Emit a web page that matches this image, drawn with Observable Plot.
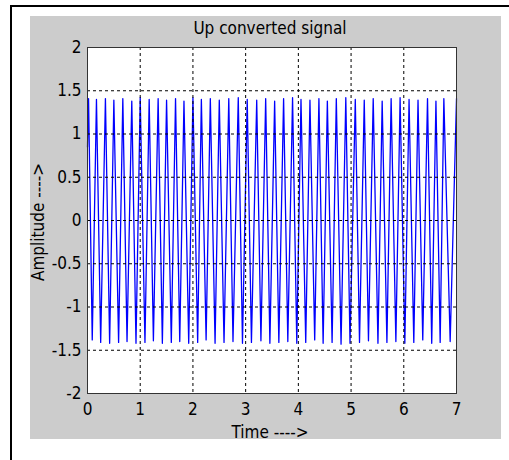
<!DOCTYPE html>
<html>
<head>
<meta charset="utf-8">
<script src="https://cdn.jsdelivr.net/npm/d3@7"></script>
<script src="https://cdn.jsdelivr.net/npm/@observablehq/plot@0.6"></script>
<style>
  html, body { margin: 0; padding: 0; background: #fff; }
  body { width: 509px; height: 460px; position: relative; overflow: hidden;
         font-family: "Liberation Sans Narrow", "Arial Narrow", "DejaVu Sans Condensed", sans-serif; }
  #frame { position: absolute; left: 10px; top: 5px; width: 520px; height: 480px;
           border-left: 2px solid #000; border-top: 2px solid #000; }
  #panel { position: absolute; left: 30px; top: 16px; width: 471px; height: 423px; background: #cccccc; }
  #chart { position: absolute; left: 0; top: 0; }
  .lbl { position: absolute; color: #000; font-size: 17px; white-space: nowrap; line-height: 1; }
  #title { left: 240px; top: 4px; transform: translateX(-50%); }
  #xlabel { left: 240px; top: 408px; transform: translateX(-50%); }
  #ylabel { left: 8px; top: 206px; transform: translate(-50%, -50%) rotate(-90deg); }
</style>
</head>
<body>
<div id="frame"></div>
<div id="panel">
  <div id="chart"></div>
  <div class="lbl" id="title">Up converted signal</div>
  <div class="lbl" id="xlabel">Time ----&gt;</div>
  <div class="lbl" id="ylabel">Amplitude ----&gt;</div>
</div>
<script>
// Tick values
const xTicks = [0, 1, 2, 3, 4, 5, 6, 7];
const yTicks = [-2, -1.5, -1, -0.5, 0, 0.5, 1, 1.5, 2];

// Signal vertices (start, then peak/trough pairs, then end)
const time = [0,
  0.02, 0.09, 0.17, 0.25, 0.34, 0.42, 0.50, 0.59, 0.67, 0.75,
  0.84, 0.92, 1.00, 1.09, 1.17, 1.25, 1.34, 1.42, 1.50, 1.59,
  1.67, 1.75, 1.83, 1.92, 2.00, 2.09, 2.16, 2.25, 2.33, 2.42,
  2.50, 2.59, 2.68, 2.76, 2.86, 2.94, 3.03, 3.11, 3.21, 3.29,
  3.38, 3.46, 3.55, 3.63, 3.72, 3.80, 3.89, 3.97, 4.05, 4.14,
  4.22, 4.31, 4.39, 4.47, 4.55, 4.64, 4.72, 4.81, 4.90, 4.98,
  5.08, 5.16, 5.25, 5.33, 5.42, 5.51, 5.59, 5.68, 5.76, 5.85,
  5.93, 6.02, 6.10, 6.19, 6.27, 6.36, 6.45, 6.53, 6.61, 6.69,
  6.76, 6.88,
  7.00];
const amplitude = [0.85,
  1.41, -1.38, 1.40, -1.41, 1.41, -1.42, 1.39, -1.41, 1.41, -1.40,
  1.38, -1.42, 1.42, -1.41, 1.40, -1.39, 1.41, -1.42, 1.39, -1.41,
  1.41, -1.40, 1.38, -1.42, 1.42, -1.41, 1.40, -1.38, 1.41, -1.42,
  1.39, -1.41, 1.41, -1.40, 1.42, -1.42, 1.40, -1.41, 1.39, -1.39,
  1.41, -1.42, 1.38, -1.41, 1.41, -1.40, 1.42, -1.42, 1.40, -1.41,
  1.39, -1.38, 1.41, -1.42, 1.38, -1.41, 1.41, -1.43, 1.42, -1.42,
  1.40, -1.41, 1.39, -1.39, 1.41, -1.42, 1.38, -1.41, 1.41, -1.40,
  1.42, -1.42, 1.40, -1.41, 1.39, -1.38, 1.41, -1.42, 1.38, -1.41,
  1.41, -1.40,
  1.41];

const signal = time.map((t, i) => ({t, a: amplitude[i]}));

const fontFamily = getComputedStyle(document.body).fontFamily;

const chart = Plot.plot({
  width: 471,
  height: 423,
  marginLeft: 57,
  marginTop: 31,
  marginRight: 45,
  marginBottom: 46,
  style: {background: "transparent", fontFamily, fontSize: "17px", color: "#000", overflow: "visible"},
  x: {domain: [0, 7]},
  y: {domain: [-2, 2]},
  marks: [
    Plot.frame({fill: "#fff", stroke: null}),
    Plot.line(signal, {x: "t", y: "a", stroke: "#0000ff", strokeWidth: 1.3}),
    Plot.gridX(xTicks, {stroke: "#000", strokeOpacity: 1, strokeDasharray: "3,3"}),
    Plot.gridY(yTicks, {stroke: "#000", strokeOpacity: 1, strokeDasharray: "3,3"}),
    Plot.frame({stroke: "#333", strokeWidth: 1}),
    Plot.axisX(xTicks, {tickSize: 0, tickPadding: 9, tickFormat: d => String(d), label: null}),
    Plot.axisY(yTicks, {tickSize: 0, tickPadding: 6, tickFormat: d => String(d), label: null})
  ]
});
document.getElementById("chart").appendChild(chart);
</script>
</body>
</html>
